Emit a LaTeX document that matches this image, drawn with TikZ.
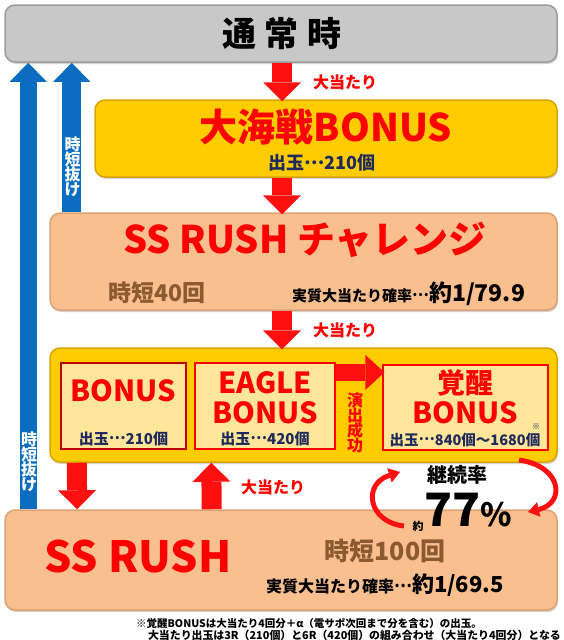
\documentclass[tikz,border=0pt]{standalone}
\usepackage{fontspec}
\setmainfont{Noto Sans CJK JP}
\usetikzlibrary{arrows.meta,shadows,calc}
\definecolor{grayF}{HTML}{C8C8C8}
\definecolor{grayB}{HTML}{9C9C9C}
\definecolor{yelF}{HTML}{FFCC00}
\definecolor{yelB}{HTML}{D9A400}
\definecolor{peachF}{HTML}{FABF8F}
\definecolor{peachB}{HTML}{DDA274}
\definecolor{innerF}{HTML}{FFE699}
\definecolor{darkRed}{HTML}{C00000}
\definecolor{arrRed}{HTML}{FF1010}
\definecolor{txtRed}{HTML}{FF0000}
\definecolor{blueA}{HTML}{0A6DBF}
\definecolor{navyT}{HTML}{1F2A5C}
\definecolor{brownT}{HTML}{8B5A2E}
\newcommand{\fs}[1]{\fontsize{#1}{#1}\selectfont}
\newcommand{\mydots}{\raisebox{0.32em}{…}}
\begin{document}
\begin{tikzpicture}[x=1pt,y=-1pt,
  box/.style={rounded corners=10pt, line width=1.5pt, inner sep=0pt, anchor=center,
    drop shadow={opacity=0.35, shadow xshift=1pt, shadow yshift=-2pt}},
  graybox/.style={box, draw=grayB, fill=grayF},
  yelbox/.style={box, draw=yelB, fill=yelF},
  peachbox/.style={box, draw=peachB, fill=peachF},
  innerbox/.style={draw=#1, line width=1.2pt, fill=innerF, inner sep=0pt, anchor=center},
  redarrow/.style={draw=arrRed, line width=20pt, -{Triangle[width=38pt,length=19pt,line width=0pt]}},
  bluearrow/.style={draw=blueA, line width=17pt, -{Triangle[width=37pt,length=19pt,line width=0pt]}},
  curvearrow/.style={draw=arrRed, line width=5pt, -{Triangle[width=15pt,length=11pt,line width=0pt]}},
  redtitle/.style={text=txtRed, font=\bfseries\fs{#1}, inner sep=0pt},
  navytxt/.style={text=navyT, font=\bfseries\fs{#1}, inner sep=0pt},
  hit/.style={text=txtRed, font=\bfseries\fs{16}, inner sep=0pt},
  vlab/.style={text=white, font=\bfseries\fs{16}, align=center, inner sep=0pt}
]
\useasboundingbox (0,0) rectangle (563,640);

% boxes
\node[graybox, minimum width=552pt, minimum height=57pt] (normal) at (281,33.5) {};
\node[yelbox, minimum width=462pt, minimum height=77pt] (kaisen) at (326,138.5) {};
\node[peachbox, minimum width=507pt, minimum height=97pt] (chal) at (303.5,261.5) {};
\node[yelbox, minimum width=507pt, minimum height=114pt] (big) at (303.5,405) {};
\node[peachbox, minimum width=552pt, minimum height=100pt] (rush) at (281,560) {};

\node[innerbox=darkRed, minimum width=125pt, minimum height=86pt] (b1) at (123.5,406) {};
\node[innerbox=txtRed, minimum width=140pt, minimum height=86pt] (b2) at (265,406) {};
\node[innerbox=txtRed, minimum width=165pt, minimum height=85pt] (b3) at (465.5,407.5) {};

% texts
\node[font=\bfseries\fs{34}, inner sep=0pt] (tNormal) at (282,34) {通\hspace{9pt}常\hspace{9pt}時};
\node[redtitle=38] (tKaisen) at (326,127) {大海戦BONUS};
\node[navytxt=18] (sKaisen) at (322,163) {出玉\mydots 210個};
\node[redtitle=38] (tChal) at (305,240) {SS RUSH チャレンジ};
\node[text=brownT, font=\bfseries\fs{23}, inner sep=0pt] (jChal) at (157,293) {時短40回};
\node[font=\bfseries\fs{15}, inner sep=0pt, anchor=base west] (pChal) at (292,301) {実質大当たり確率\mydots{\fs{23}約1/79.9}};

\node[redtitle=29] (tB1) at (123.5,391) {BONUS};
\node[navytxt=15] (sB1) at (123.5,439) {出玉\mydots 210個};
\node[redtitle=29] (tB2a) at (265,383) {EAGLE};
\node[redtitle=29] (tB2b) at (265,413) {BONUS};
\node[navytxt=15] (sB2) at (265,439) {出玉\mydots 420個};
\node[redtitle=28] (tB3a) at (465,383) {覚醒};
\node[redtitle=29] (tB3b) at (465,413) {BONUS};
\node[navytxt=8] (kome) at (536,427) {※};
\node[navytxt=14.5] (sB3) at (465,440) {出玉\mydots 840個～1680個};
\node[text=txtRed, font=\bfseries\fs{16}, align=center, inner sep=0pt] (enshutsu) at (355,423) {演\\[-1pt]出\\[-1pt]成\\[-1pt]功};

\node[redtitle=43] (tRush) at (138,556) {SS RUSH};
\node[text=brownT, font=\bfseries\fs{25}, inner sep=0pt] (jRush) at (385,551) {時短100回};
\node[font=\bfseries\fs{16}, inner sep=0pt] (pRush) at (385,585) {実質大当たり確率\mydots{\fs{22}約1/69.5}};

\node[font=\bfseries\fs{20}, inner sep=0pt] (keizoku) at (457,475) {継続率};
\node[font=\bfseries\fs{11}, inner sep=0pt] (yaku) at (418,526) {約};
\node[font=\bfseries\fs{46}, inner sep=0pt] (pct) at (468,510) {77{\fs{32}\%}};

\node[font=\bfseries\fs{10.5}, inner sep=0pt, anchor=west] (note1) at (136,623) {※覚醒BONUSは大当たり4回分＋α（電サポ次回まで分を含む）の出玉。};
\node[font=\bfseries\fs{10.9}, inner sep=0pt, anchor=east] (note2) at (561,635) {大当たり出玉は3R（210個）と6R（420個）の組み合わせ（大当たり4回分）となる};

% red arrows
\draw[redarrow] ($(normal.south)+(1,0)$) -- ($(normal.south |- kaisen.north)+(1,2)$);
\node[hit] (hit1) at (345,82) {大当たり};
\draw[redarrow] ($(normal.south |- kaisen.south)+(1,0)$) -- ($(normal.south |- chal.north)+(1,2)$);
\draw[redarrow] ($(normal.south |- chal.south)+(1,0)$) -- ($(normal.south |- big.north)+(1,2)$);
\node[hit] (hit2) at (345,330) {大当たり};
\draw[redarrow, line width=17pt, -{Triangle[width=35pt,length=19pt,line width=0pt]}]
  ($(b2.north east)+(0,10)$) -- ($(b3.north west)+(2,8)$);
\draw[redarrow] ($(big.south west)+(27.5,0)$) -- ($(rush.north west)+(73,0)$);
\draw[redarrow] ($(rush.north west)+(207.5,0)$) -- ($(big.south west)+(162,0)$);
\node[hit] (hit3) at (273,487) {大当たり};

% blue arrows
\draw[bluearrow] ($(rush.north west)+(24,0)$) -- ($(normal.south west)+(24,0)$);
\draw[bluearrow, line width=19pt] ($(chal.north west)+(22.5,0)$) -- ($(normal.south west)+(67.5,0)$);
\node[vlab] (lab1) at (29,462) {時\\[-1pt]短\\[-1pt]抜\\[-1pt]け};
\node[vlab] (lab2) at (72.5,167) {時\\[-1pt]短\\[-1pt]抜\\[-1pt]け};

% curved arrows
\coordinate (c1s) at (519,460);
\coordinate (c1e) at (528,512);
\draw[curvearrow] (c1s) .. controls (562,466) and (566,503) .. (c1e);
\coordinate (c2s) at (404,526);
\coordinate (c2e) at (400,472);
\draw[curvearrow] (c2s) .. controls (368,522) and (362,484) .. (c2e);
\end{tikzpicture}
\end{document}
